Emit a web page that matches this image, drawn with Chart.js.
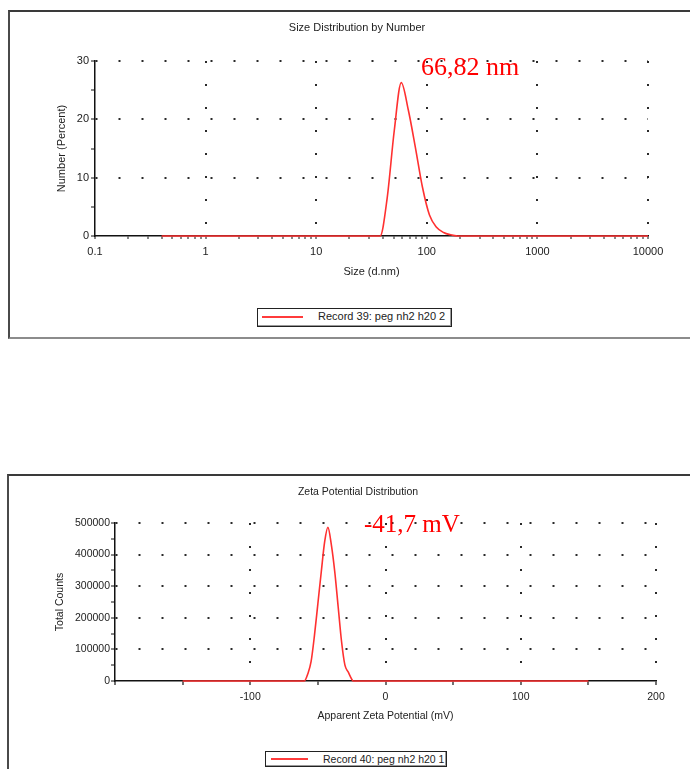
<!DOCTYPE html>
<html><head><meta charset="utf-8">
<script src="https://cdn.jsdelivr.net/npm/chart.js@4.4.1/dist/chart.umd.min.js"></script>
<style>
html,body{margin:0;padding:0;background:#fff;}
body{width:690px;height:769px;overflow:hidden;position:relative;font-family:'Liberation Sans',Arial,sans-serif;}
.frame{position:absolute;box-sizing:border-box;}
#f1{left:8px;top:10px;width:720px;height:329px;border-left:2px solid #4a4a4a;border-top:2px solid #3a3a3a;border-bottom:2px solid #8c8c8c;}
#f2{left:7px;top:474px;width:720px;height:320px;border-left:2px solid #4a4a4a;border-top:2px solid #3a3a3a;}
canvas{position:absolute;left:0;}
#c1{top:0;}
#c2{top:462px;}
.legend{position:absolute;box-sizing:border-box;border:1px solid #222;box-shadow:inset -1px -1px 0 #9a9a9a;background:#fff;}
.sw{position:absolute;height:2px;background:#ff3b3b;}
.tx{position:absolute;white-space:nowrap;color:#222;}
.ann{position:absolute;font-family:'Liberation Serif','Times New Roman',serif;color:#ff0000;white-space:nowrap;line-height:1;}
</style></head>
<body>
<div class="frame" id="f1"></div>
<div class="frame" id="f2"></div>
<canvas id="c1" width="690" height="300"></canvas>
<canvas id="c2" width="690" height="300"></canvas>

<div class="legend" style="left:257px;top:308px;width:195px;height:19px;"></div>
<div class="sw" style="left:262px;top:316px;width:41px;"></div>
<div class="tx" style="left:318px;top:310px;font-size:11px;line-height:13px;">Record 39: peg nh2 h20 2</div>

<div class="legend" style="left:265px;top:751px;width:182px;height:16px;"></div>
<div class="sw" style="left:271px;top:758px;width:37px;"></div>
<div class="tx" style="left:323px;top:752.5px;font-size:10.5px;line-height:12.6px;">Record 40: peg nh2 h20 1</div>

<div class="ann" style="left:421px;top:54px;font-size:26px;">66,82 nm</div>
<div class="ann" style="left:364px;top:510.5px;font-size:25px;">-41,7 mV</div>

<script>
// ---- Size distribution by number ----
const sizeNm    = [0.4, 37.84, 43.82, 50.75, 58.77, 68.06, 78.82, 91.28, 105.7, 122.4, 141.8, 164.2, 190.1, 10000];
const numberPct = [0,   0,     6.5,   18,    26.3,  21.6,  15.2,  8.4,   3.6,   1.5,   0.6,   0.2,   0,     0];
const sizeTickLabels = ['0.1', '1', '10', '100', '1000', '10000'];
const numberTickLabels = ['0', '10', '20', '30'];

// ---- Zeta potential distribution ----
const zetaMv      = [-150, -60, -57.5, -55,   -52.5,  -50,    -47.5,  -45,    -42.6,  -40,    -37.5,  -35,    -32.5,  -30,   -27.5, -25,  -24, 150];
const totalCounts = [0,    0,   22000, 62000, 145000, 245000, 345000, 440000, 486000, 430000, 345000, 235000, 125000, 50000, 28000, 6000, 0,   0];
const zetaTickLabels = ['-100', '0', '100', '200'];
const countTickLabels = ['0', '100000', '200000', '300000', '400000', '500000'];

Chart.defaults.font.family = "'Liberation Sans', Arial, sans-serif";
Chart.defaults.color = '#222';

const RED = '#ff3030';
const AXIS = '#111';
const DOT = '#2a2a2a';
const DASH = [2, 21];

// top chart ticks
const sizeDecades = sizeTickLabels.map(Number);
const sizeAllTicks = [];
sizeDecades.forEach((d, i) => {
  sizeAllTicks.push(d);
  if (i < sizeDecades.length - 1) {
    for (let m = 2; m <= 9; m++) sizeAllTicks.push(Number((d * m).toPrecision(6)));
  }
});
const isDecade = v => sizeDecades.some(d => Math.abs(d - v) / d < 1e-9);
const numberTickVals = numberTickLabels.map(Number);

new Chart(document.getElementById('c1'), {
  type: 'line',
  data: {
    datasets: [{
      label: 'Record 39: peg nh2 h20 2',
      data: sizeNm.map((x, i) => ({x: x, y: numberPct[i]})),
      borderColor: RED,
      borderWidth: 1.6,
      pointRadius: 0,
      fill: false,
      cubicInterpolationMode: 'monotone',
      clip: false
    }]
  },
  options: {
    responsive: false,
    animation: false,
    devicePixelRatio: 1,
    layout: {padding: {left: 66, right: 42, top: 0, bottom: 0}},
    plugins: {
      legend: {display: false},
      tooltip: {enabled: false},
      title: {
        display: true,
        text: 'Size Distribution by Number',
        font: {size: 11, weight: 'normal'},
        color: '#222',
        padding: {top: 21.4, bottom: 26.4}
      }
    },
    scales: {
      x: {
        type: 'logarithmic',
        min: 0.1,
        max: 10000,
        afterBuildTicks: s => { s.ticks = sizeAllTicks.map(v => ({value: v})); },
        afterFit: s => { s.height = 64; },
        ticks: {
          autoSkip: false, maxRotation: 0, minRotation: 0, padding: 6,
          font: {size: 11}, color: '#222',
          callback: v => {
            const i = sizeDecades.findIndex(d => Math.abs(d - v) / d < 1e-9);
            return i >= 0 ? sizeTickLabels[i] : '';
          }
        },
        grid: {
          color: c => (isDecade(c.tick.value) && c.tick.value !== sizeDecades[0]) ? DOT : 'transparent',
          lineWidth: 2,
          tickColor: AXIS,
          tickLength: 3,
          tickWidth: 1
        },
        border: {display: true, color: AXIS, width: 1.5, dash: DASH},
        title: {display: true, text: 'Size (d.nm)', font: {size: 11}, color: '#222', padding: {top: 0, bottom: 21.4}}
      },
      y: {
        type: 'linear',
        min: 0,
        max: 30,
        afterFit: s => { s.width = 29; },
        ticks: {
          stepSize: 5, autoSkip: false, padding: 2,
          font: {size: 11}, color: '#222',
          callback: v => { const i = numberTickVals.indexOf(v); return i >= 0 ? numberTickLabels[i] : ''; }
        },
        grid: {
          color: c => (numberTickVals.includes(c.tick.value) && c.tick.value !== 0) ? DOT : 'transparent',
          lineWidth: 2,
          tickColor: AXIS,
          tickLength: 4,
          tickWidth: 1
        },
        border: {display: true, color: AXIS, width: 1.5, dash: DASH},
        title: {display: true, text: 'Number (Percent)', font: {size: 11}, color: '#222', padding: {top: -10.6, bottom: 0}}
      }
    }
  }
});

const zetaTickVals = zetaTickLabels.map(Number);
const countTickVals = countTickLabels.map(Number);

new Chart(document.getElementById('c2'), {
  type: 'line',
  data: {
    datasets: [{
      label: 'Record 40: peg nh2 h20 1',
      data: zetaMv.map((x, i) => ({x: x, y: totalCounts[i]})),
      borderColor: RED,
      borderWidth: 1.6,
      pointRadius: 0,
      fill: false,
      cubicInterpolationMode: 'monotone',
      clip: false
    }]
  },
  options: {
    responsive: false,
    animation: false,
    devicePixelRatio: 1,
    layout: {padding: {left: 60, right: 34, top: 0, bottom: 0}},
    plugins: {
      legend: {display: false},
      tooltip: {enabled: false},
      title: {
        display: true,
        text: 'Zeta Potential Distribution',
        font: {size: 10.5, weight: 'normal'},
        color: '#222',
        padding: {top: 23.4, bottom: 25}
      }
    },
    scales: {
      x: {
        type: 'linear',
        min: -200,
        max: 200,
        afterFit: s => { s.height = 81; },
        ticks: {
          stepSize: 50, autoSkip: false, maxRotation: 0, minRotation: 0, padding: 5.7,
          font: {size: 10.5}, color: '#222',
          callback: v => { const i = zetaTickVals.indexOf(v); return i >= 0 ? zetaTickLabels[i] : ''; }
        },
        grid: {
          color: c => zetaTickVals.includes(c.tick.value) ? DOT : 'transparent',
          lineWidth: 2,
          tickColor: AXIS,
          tickLength: 4,
          tickWidth: 1.2
        },
        border: {display: true, color: AXIS, width: 1.5, dash: DASH},
        title: {display: true, text: 'Apparent Zeta Potential (mV)', font: {size: 10.5}, color: '#222', padding: {top: 0, bottom: 39.7}}
      },
      y: {
        type: 'linear',
        min: 0,
        max: 500000,
        afterFit: s => { s.width = 55; },
        ticks: {
          stepSize: 50000, autoSkip: false, padding: 1,
          font: {size: 10.5}, color: '#222',
          callback: v => { const i = countTickVals.indexOf(v); return i >= 0 ? countTickLabels[i] : ''; }
        },
        grid: {
          color: c => (countTickVals.includes(c.tick.value) && c.tick.value !== 0) ? DOT : 'transparent',
          lineWidth: 2,
          tickColor: AXIS,
          tickLength: 4,
          tickWidth: 1
        },
        border: {display: true, color: AXIS, width: 1.5, dash: DASH},
        title: {display: true, text: 'Total Counts', font: {size: 10.5}, color: '#222', padding: {top: -6.3, bottom: 0}}
      }
    }
  }
});
</script>
</body></html>
